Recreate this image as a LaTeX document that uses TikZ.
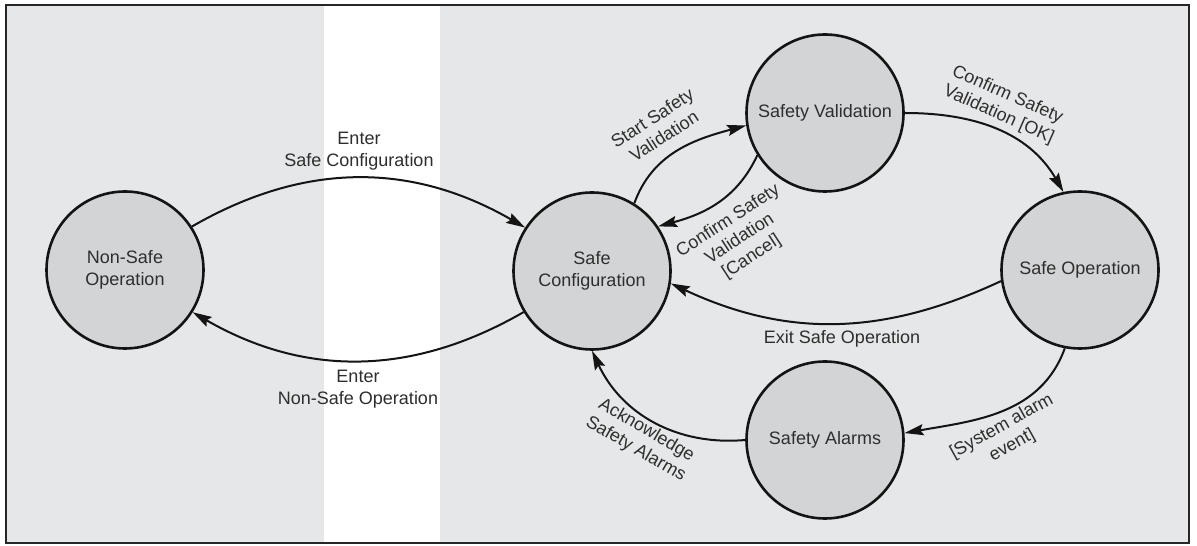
\documentclass[tikz,border=0pt]{standalone}
\usepackage{fontspec}
\setmainfont{Liberation Sans}
\usepackage{tikz}
\usetikzlibrary{%
		arrows.meta%
	}
\definecolor{bgfill}{HTML}{E6E7E8}
\definecolor{statefill}{HTML}{D3D4D6}
\definecolor{txtgray}{HTML}{2E2E2E}

\begin{document}
\begin{tikzpicture}[x=1pt,y=1pt,
		every node/.style={font=\fontsize{18}{21.5}\selectfont, text=txtgray},
		state/.style={circle, draw=black!92, line width=2.6pt, fill=statefill, minimum size=157pt, inner sep=0pt, align=center},
		trans/.style={-{Stealth[length=19pt,width=11pt,inset=3pt]}, line width=2pt, draw=black!92},
		lbl/.style={align=center, inner sep=0pt}
	]
	\useasboundingbox (0,0) rectangle (1197,546);
	\fill[bgfill] (6,3) rectangle (1189,541);
	\fill[white] (324,3) rectangle (440,541);
	\draw[line width=2.5pt, black!85] (6,3) rectangle (1189,541);
	
	\node[state] (nso) at (125,276) {Non-Safe\\Operation};
	\node[state] (scfg) at (592,275) {Safe\\Configuration};
	\node[state] (sval) at (825,433) {Safety Validation};
	\node[state] (sop) at (1080,276) {Safe Operation};
	\node[state] (salm) at (825,106) {Safety Alarms};
	
	\draw[trans] (nso.33) to[out=30,in=150] (scfg.147);
	\draw[trans] (scfg.211) to[out=210,in=330] (nso.328);
	\draw[trans] (scfg.58) to[out=70,in=195] (sval.189);
	\draw[trans] (sval.212) to[out=245,in=15] (scfg.34);
	\draw[trans] (sval.0) to[out=0,in=120] (sop.102);
	\draw[trans] (sop.188) to[out=205,in=335] (scfg.351);
	\draw[trans] (sop.259) to[out=250,in=10] (salm.5);
	\draw[trans] (salm.180) to[out=185,in=295] (scfg.270);
	
	\node[lbl] (lentersc) at (359,395) {Enter\\Safe Configuration};
	\node[lbl] (lenternso) at (358,157) {Enter\\Non-Safe Operation};
	\node[lbl, rotate=33] (lstart) at (658,419) {Start Safety\\Validation};
	\node[lbl, rotate=33] (lcancel) at (740,307) {Confirm Safety\\Validation\\{[Cancel]}};
	\node[lbl, rotate=-24] (lok) at (1003,441) {Confirm Safety\\Validation [OK]};
	\node[lbl] (lexit) at (842,207) {Exit Safe Operation};
	\node[lbl, rotate=29] (lalarm) at (1007,110) {[System alarm\\event]};
	\node[lbl, rotate=-30] (lack) at (641,106) {Acknowledge\\Safety Alarms};
\end{tikzpicture}
\end{document}
